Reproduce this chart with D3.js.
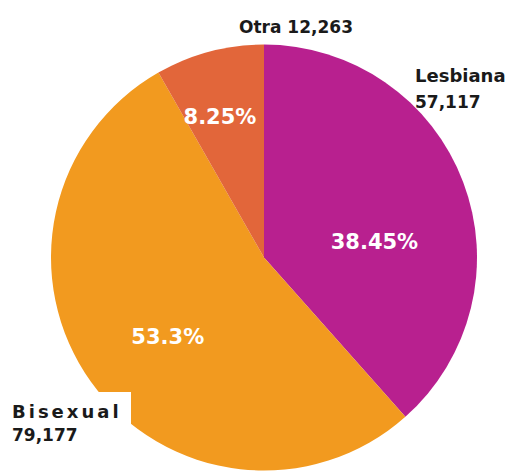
<!DOCTYPE html>
<html>
<head>
<meta charset="utf-8">
<script src="https://cdn.jsdelivr.net/npm/d3@7"></script>
<style>
  body { margin: 0; background: #fff; }
  svg { display: block; }
  text { font-family: "DejaVu Sans", "Open Sans", sans-serif; font-weight: 700; }
</style>
</head>
<body>
<div id="chart"></div>
<script>
// data
var categories = ["Lesbiana", "Bisexual", "Otra"];
var counts = [57117, 79177, 12263];
var percentLabels = ["38.45%", "53.3%", "8.25%"];
var countLabels = ["57,117", "79,177", "12,263"];
var colors = ["#b8208f", "#f29a1f", "#e2663a"];

var width = 513, height = 473;
var cx = 264, cy = 257.5, radius = 213;

var svg = d3.select("#chart").append("svg")
    .attr("width", width)
    .attr("height", height);

var g = svg.append("g")
    .attr("transform", "translate(" + cx + "," + cy + ")");

var pie = d3.pie().sort(null).value(function (d) { return d; });
var arcs = pie(counts);

var arc = d3.arc().innerRadius(0).outerRadius(radius);

g.selectAll("path.slice")
  .data(arcs)
  .enter().append("path")
    .attr("class", "slice")
    .attr("d", arc)
    .attr("fill", function (d, i) { return colors[i]; });

// percentage labels, inside the slices
var labelArc = d3.arc().innerRadius(radius * 0.66).outerRadius(radius * 0.66);
// small nudges so the labels sit where the original has them
var nudge = [[-21, 34], [18, -3], [-8, -5]];
g.selectAll("text.pct")
  .data(arcs)
  .enter().append("text")
    .attr("class", "pct")
    .attr("transform", function (d, i) {
      var c = labelArc.centroid(d);
      return "translate(" + (c[0] + nudge[i][0]) + "," + (c[1] + nudge[i][1]) + ")";
    })
    .attr("text-anchor", "middle")
    .attr("dy", "0.36em")
    .attr("fill", "#fff")
    .style("font-size", "21px")
    .text(function (d, i) { return percentLabels[i]; });

// Bisexual label sits on a white box that cuts into the pie
svg.append("rect")
    .attr("x", 0).attr("y", 392)
    .attr("width", 131).attr("height", 36)
    .attr("fill", "#fff");

svg.append("text")
    .attr("x", 12).attr("y", 418)
    .attr("fill", "#1a1a1a")
    .style("font-size", "18px")
    .style("letter-spacing", "3px")
    .text(categories[1]);
svg.append("text")
    .attr("x", 12).attr("y", 441)
    .attr("fill", "#1a1a1a")
    .style("font-size", "17px")
    .text(countLabels[1]);

// Lesbiana
svg.append("text")
    .attr("x", 415).attr("y", 82)
    .attr("fill", "#1a1a1a")
    .style("font-size", "18px")
    .text(categories[0]);
svg.append("text")
    .attr("x", 415).attr("y", 108)
    .attr("fill", "#1a1a1a")
    .style("font-size", "17px")
    .text(countLabels[0]);

// Otra
svg.append("text")
    .attr("x", 296).attr("y", 33)
    .attr("text-anchor", "middle")
    .attr("fill", "#1a1a1a")
    .style("font-size", "17px")
    .text(categories[2] + " " + countLabels[2]);
</script>
</body>
</html>
